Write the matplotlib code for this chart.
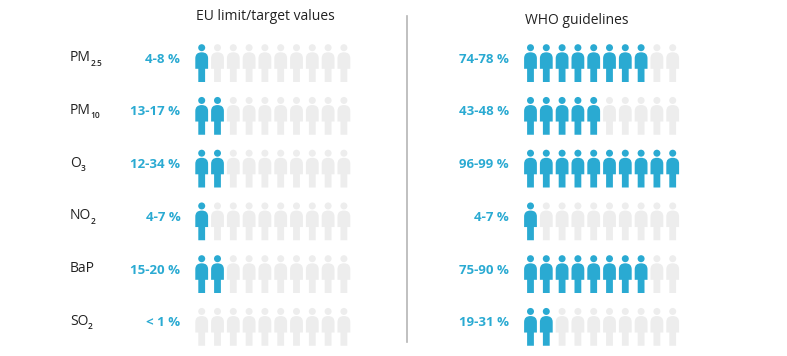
import matplotlib
matplotlib.use('Agg')
import matplotlib.pyplot as plt
from matplotlib.path import Path
from matplotlib.patches import PathPatch, Circle

plt.rcParams['font.family'] = ['Open Sans', 'DejaVu Sans']

# data
pollutants = ['PM', 'PM', 'O', 'NO', 'BaP', 'SO']
subscripts = ['2.5', '10', '3', '2', '', '2']
eu_labels = ['4-8 %', '13-17 %', '12-34 %', '4-7 %', '15-20 %', '< 1 %']
who_labels = ['74-78 %', '43-48 %', '96-99 %', '4-7 %', '75-90 %', '19-31 %']
eu_people = [1, 2, 2, 1, 2, 0]
who_people = [8, 5, 10, 1, 8, 2]

BLUE = '#2aaad2'
GREY = '#ededed'
TOTAL = 10
ROW0 = 47.7
ROW_STEP = 52.75
COL_STEP = 15.8


def person(ax, x, y, color):
    # y is the centre of the head, axis is inverted
    ax.add_patch(Circle((x, y), 3.5, fc=color, ec='none'))
    top = y + 4.6
    verts = [
        (x - 6.4, top + 16.5), (x - 6.4, top + 6), (x - 6.4, top), (x, top),
        (x + 6.4, top), (x + 6.4, top + 6), (x + 6.4, top + 16.5),
        (x + 3.4, top + 16.5), (x + 3.4, top + 29.7),
        (x - 3.4, top + 29.7), (x - 3.4, top + 16.5), (x - 6.4, top + 16.5),
    ]
    codes = [Path.MOVETO, Path.LINETO, Path.CURVE3, Path.CURVE3,
             Path.CURVE3, Path.CURVE3, Path.LINETO,
             Path.LINETO, Path.LINETO, Path.LINETO, Path.LINETO, Path.CLOSEPOLY]
    ax.add_patch(PathPatch(Path(verts, codes), fc=color, ec='none'))


def column(ax, x0, labels, counts):
    for r, (lab, n) in enumerate(zip(labels, counts)):
        y = ROW0 + r * ROW_STEP
        ax.text(x0 - 21.4, y + 11.5, lab, ha='right', va='center', color=BLUE,
                fontsize=9.5, fontweight='bold')
        for i in range(TOTAL):
            person(ax, x0 + i * COL_STEP, y, BLUE if i < n else GREY)


fig = plt.figure(figsize=(7.87, 3.56), dpi=100)
ax = fig.add_axes([0, 0, 1, 1])
ax.set_xlim(0, 787)
ax.set_ylim(356, 0)
ax.axis('off')

ax.text(196, 17, 'EU limit/target values', va='center', fontsize=10, color='#222222')
ax.text(525, 20.5, 'WHO guidelines', va='center', fontsize=10, color='#222222')

ax.plot([407, 407], [16, 342], color='#b5b5b5', lw=1.2)

for r, (name, sub) in enumerate(zip(pollutants, subscripts)):
    y = ROW0 + r * ROW_STEP + 10
    t = ax.text(70, y, name, va='center', fontsize=10, color='#222222')
    fig.canvas.draw()
    box = t.get_window_extent().transformed(ax.transData.inverted())
    ax.text(box.x1 - 0.5, y + 5.5, sub, va='center', fontsize=6, color='#222222',
            fontweight='semibold')

column(ax, 201.7, eu_labels, eu_people)
column(ax, 530.5, who_labels, who_people)

fig.savefig('out.png', dpi=100)
